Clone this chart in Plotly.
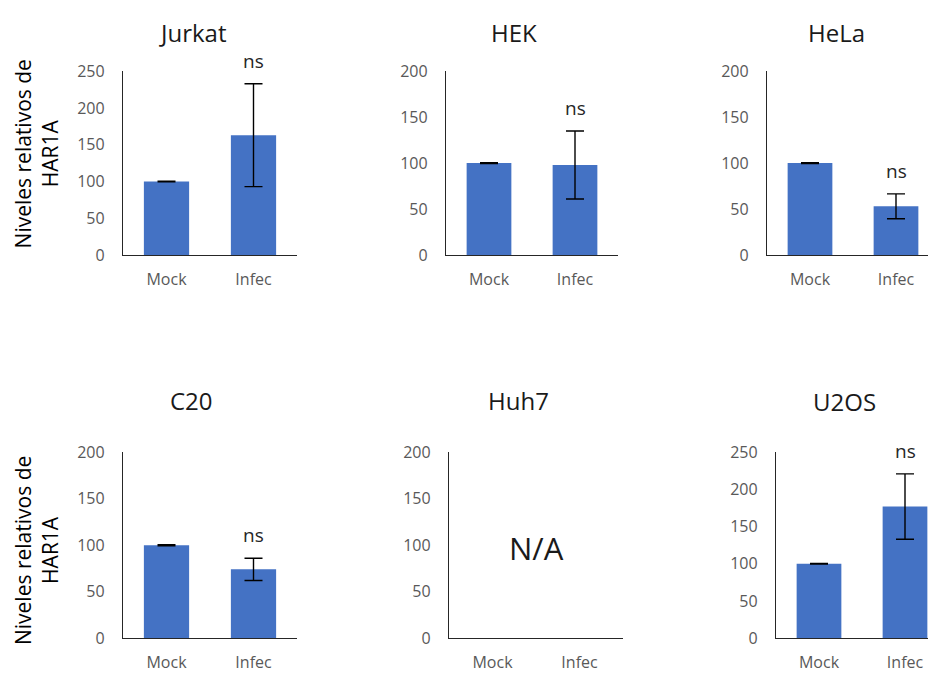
import plotly.graph_objects as go

# ---------------- data ----------------
categories = ["Mock", "Infec"]
panel_names = ["Jurkat", "HEK", "HeLa", "C20", "Huh7", "U2OS"]

jurkat_values = [100, 163]
jurkat_errors = [0.5, 70]
hek_values = [100, 98]
hek_errors = [0.5, 37]
hela_values = [100, 53]
hela_errors = [0.5, 13.5]
c20_values = [100, 74]
c20_errors = [0.5, 12]
huh7_values = [None, None]
huh7_errors = [None, None]
u2os_values = [100, 177]
u2os_errors = [0.5, 44]

y_axis_max = [250, 200, 200, 200, 200, 250]
y_tick_step = 50
significance = ["ns", "ns", "ns", "ns", None, "ns"]
missing_label = "N/A"
y_axis_title = "Niveles relativos de<br>HAR1A"

all_values = [jurkat_values, hek_values, hela_values, c20_values, huh7_values, u2os_values]
all_errors = [jurkat_errors, hek_errors, hela_errors, c20_errors, huh7_errors, u2os_errors]

# ---------------- layout geometry (window pixels) ----------------
W, H = 936, 673
OFF = 8  # page body margin in the browser
rows_px = [(62, 252), (456, 648)]
cols_px = [(123, 297), (446, 618), (767, 939), (123, 297), (449, 623), (776, 948)]
title_px = [(192, 22), (514, 22), (836, 22), (191, 402), (519, 402), (844, 403)]
ylabel_px = [(36, 148), (36, 558)]

BAR_COLOR = "#4472C4"
AXIS_COLOR = "#262626"
TICK_COLOR = "#595959"
FONT = "Open Sans, Liberation Sans, sans-serif"


def px_x(p):
    return (p - OFF) / W


def px_y(p):
    return 1 - (p - OFF) / H


fig = go.Figure()
annotations = []

for i, name in enumerate(panel_names):
    n = i + 1
    xa = "x" if n == 1 else f"x{n}"
    ya = "y" if n == 1 else f"y{n}"
    vals = all_values[i]
    errs = all_errors[i]
    fig.add_trace(go.Bar(
        x=categories, y=vals, xaxis=xa, yaxis=ya,
        width=0.52, marker=dict(color=BAR_COLOR, line=dict(width=0)),
        error_y=dict(type="data", array=errs, visible=True,
                     color="#000000", thickness=1.4, width=9),
        showlegend=False, hoverinfo="skip",
    ))

    row = 0 if i < 3 else 1
    top, bot = rows_px[row]
    x0, x1 = cols_px[i]
    d0 = px_x(x0)
    d1 = px_x(x1)
    rng_end = 1.5
    if d1 > 1.0:
        rng_end = -0.5 + 2.0 * (W + OFF - x0) / (x1 - x0)
        d1 = 1.0
    xkey = "xaxis" if n == 1 else f"xaxis{n}"
    ykey = "yaxis" if n == 1 else f"yaxis{n}"
    fig.update_layout(**{
        xkey: dict(domain=[d0, d1], anchor=ya, type="category",
                   categoryorder="array", categoryarray=categories,
                   range=[-0.5, rng_end], showline=True, linecolor=AXIS_COLOR,
                   linewidth=1.3, showgrid=False, zeroline=False, ticks="",
                   ticklabelstandoff=10, fixedrange=True,
                   tickfont=dict(family=FONT, size=16, color=TICK_COLOR)),
        ykey: dict(domain=[px_y(bot), px_y(top)], anchor=xa,
                   range=[0, y_axis_max[i]], dtick=y_tick_step, tick0=0,
                   showline=True, linecolor=AXIS_COLOR, linewidth=1.3,
                   showgrid=False, zeroline=False, ticks="",
                   ticklabelstandoff=14, fixedrange=True,
                   tickfont=dict(family=FONT, size=16, color=TICK_COLOR)),
    })

    tx, ty = title_px[i]
    annotations.append(dict(text=name, xref="paper", yref="paper",
                            x=px_x(tx), y=px_y(ty), xanchor="center", yanchor="middle",
                            borderpad=0, showarrow=False,
                            font=dict(family=FONT, size=24, color="#1a1a1a")))

    if significance[i] is not None:
        top_val = vals[1] + errs[1]
        annotations.append(dict(text=significance[i], xref=xa, yref=ya,
                                x=categories[1], y=top_val, yshift=23,
                                xanchor="center", yanchor="middle", showarrow=False,
                                font=dict(family=FONT, size=19, color="#262626")))
    if all(v is None for v in vals):
        annotations.append(dict(text=missing_label, xref=xa, yref=ya,
                                x=0.5, y=y_axis_max[i] * 0.485,
                                xanchor="center", yanchor="middle", showarrow=False,
                                font=dict(family=FONT, size=31, color="#1a1a1a")))

for (lx, ly) in ylabel_px:
    annotations.append(dict(text=y_axis_title, xref="paper", yref="paper",
                            x=px_x(lx), y=px_y(ly), xanchor="center", yanchor="middle",
                            textangle=-90, showarrow=False,
                            font=dict(family=FONT, size=21, color="#000000")))

fig.update_layout(
    width=W, height=H,
    margin=dict(l=0, r=0, t=0, b=0),
    paper_bgcolor="white", plot_bgcolor="white",
    annotations=annotations,
)

fig.write_html("out.html")
